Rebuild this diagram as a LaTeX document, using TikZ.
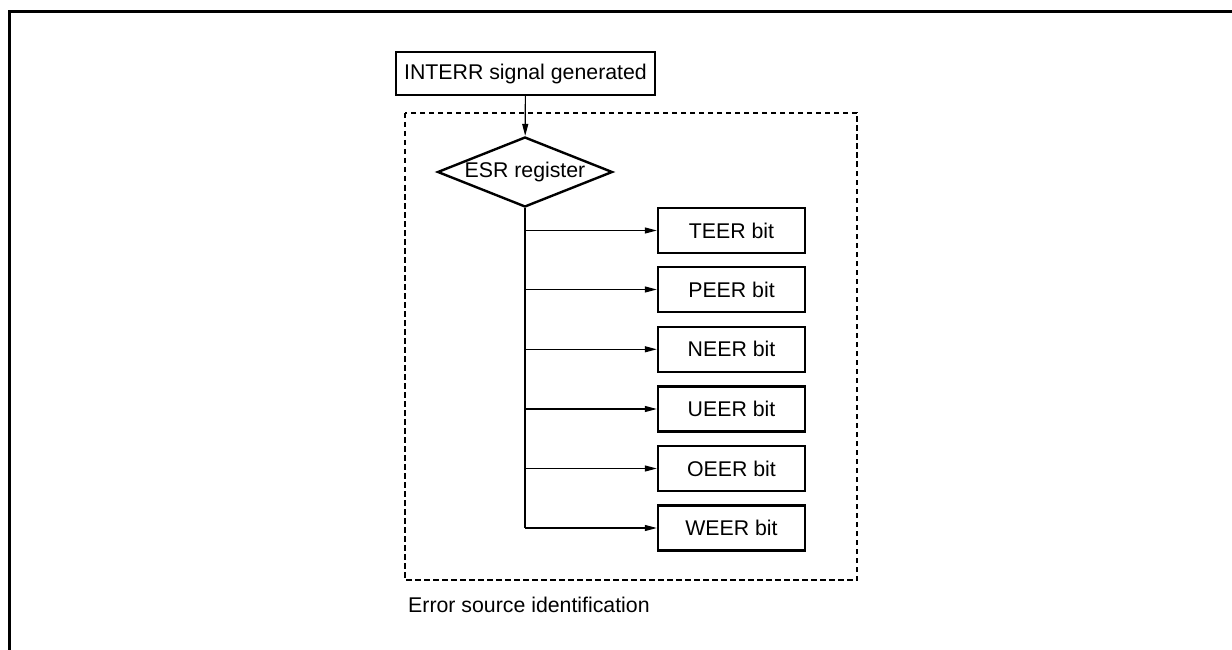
\documentclass[tikz,border=0pt]{standalone}
\usepackage{fontspec}
\setmainfont{Liberation Sans}
\usetikzlibrary{shapes.geometric,arrows.meta}
\begin{document}
\begin{tikzpicture}[x=1pt,y=-1pt,
  font=\fontsize{21.3}{25}\selectfont,
  box/.style={draw,line width=2.4pt,inner sep=0pt,minimum height=45pt},
  bitbox/.style={box,minimum width=147pt},
  dec/.style={draw,shape=diamond,line width=2.4pt,inner sep=0pt,aspect=2.5,minimum width=175pt,minimum height=70pt},
  conn/.style={line width=1.2pt,-{Triangle[length=12pt,width=6pt]}},
  line/.style={line width=1.2pt}]
\useasboundingbox (0,0) rectangle (1232,650);
\draw[line width=3pt] (9,650) -- (9,12) -- (1232,12);
\draw[line width=1.2pt,dash pattern=on 5.5pt off 3.5pt] (405,113) rectangle (857,580);
\node[box,minimum width=259pt,minimum height=43pt] (int) at (525.5,73.5) {INTERR signal generated};
\node[dec] (esr) at (525,172) {ESR register};
\draw[conn] (int) -- (esr);
\foreach \n/\t/\y in {b1/TEER/230.5,b2/PEER/289.5,b3/NEER/349.3,b4/UEER/409,b5/OEER/468.5,b6/WEER/528}{
  \node[bitbox] (\n) at (731.5,\y) {\t\ bit};
  \draw[conn] (esr.south |- \n) -- (\n);
}
\draw[line] (esr.south) -- (esr.south |- b6);
\node[anchor=west,inner sep=0pt] (lab) at (408,605) {Error source identification};
\end{tikzpicture}
\end{document}
